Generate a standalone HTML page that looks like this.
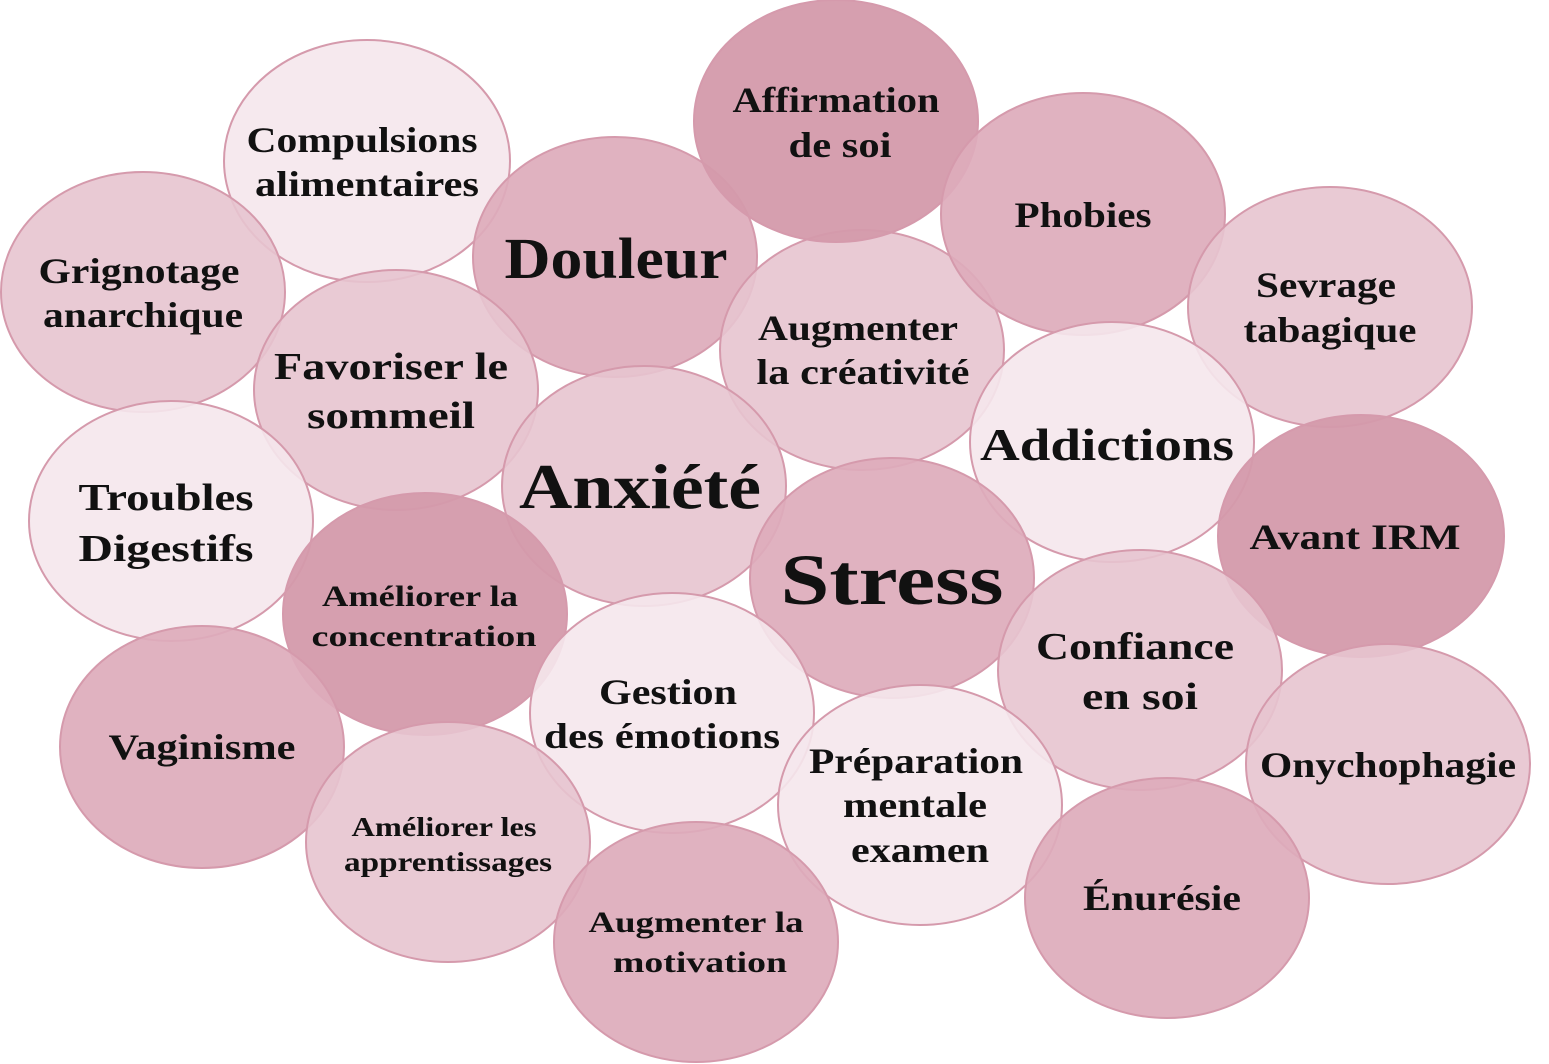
<!DOCTYPE html>
<html><head><meta charset="utf-8"><style>
html,body{margin:0;padding:0;background:#fff}
svg{display:block}
text{font-family:"Liberation Serif",serif;font-weight:bold;fill:#111;text-anchor:middle}
ellipse{stroke:#d59aac;stroke-width:2}
.a{fill:#f5e7ec;fill-opacity:.9}
.b{fill:#e7c4cf;fill-opacity:.9}
.c{fill:#ddabbb;fill-opacity:.92}
.d{fill:#d49aab;fill-opacity:.95}
</style></head><body>
<svg width="1549" height="1064" viewBox="0 0 1549 1064">
<ellipse class="a" cx="367" cy="161" rx="143" ry="121"/>
<ellipse class="b" cx="143" cy="292" rx="142" ry="120"/>
<ellipse class="c" cx="615" cy="257" rx="142" ry="120"/>
<ellipse class="b" cx="862" cy="350" rx="142" ry="120"/>
<ellipse class="d" cx="836" cy="121" rx="142" ry="121"/>
<ellipse class="c" cx="1083" cy="214" rx="142" ry="121"/>
<ellipse class="b" cx="1330" cy="307" rx="142" ry="120"/>
<ellipse class="b" cx="396" cy="390" rx="142" ry="120"/>
<ellipse class="a" cx="1112" cy="442" rx="142" ry="120"/>
<ellipse class="a" cx="171" cy="521" rx="142" ry="120"/>
<ellipse class="b" cx="644" cy="486" rx="142" ry="120"/>
<ellipse class="d" cx="1361" cy="536" rx="143" ry="121"/>
<ellipse class="c" cx="892" cy="578" rx="142" ry="120"/>
<ellipse class="d" cx="425" cy="614" rx="142" ry="121"/>
<ellipse class="b" cx="1140" cy="670" rx="142" ry="120"/>
<ellipse class="c" cx="202" cy="747" rx="142" ry="121"/>
<ellipse class="a" cx="672" cy="713" rx="142" ry="120"/>
<ellipse class="b" cx="1388" cy="764" rx="142" ry="120"/>
<ellipse class="a" cx="920" cy="805" rx="142" ry="120"/>
<ellipse class="b" cx="448" cy="842" rx="142" ry="120"/>
<ellipse class="c" cx="1167" cy="898" rx="142" ry="120"/>
<ellipse class="c" cx="696" cy="942" rx="142" ry="120"/>

<g lengthAdjust="spacingAndGlyphs">
<text font-size="36" x="362" y="152" textLength="231" lengthAdjust="spacingAndGlyphs">Compulsions</text>
<text font-size="36" x="367" y="196" textLength="224" lengthAdjust="spacingAndGlyphs">alimentaires</text>
<text font-size="36" x="836" y="112" textLength="207" lengthAdjust="spacingAndGlyphs">Affirmation</text>
<text font-size="36" x="840" y="157" textLength="103" lengthAdjust="spacingAndGlyphs">de soi</text>
<text font-size="36" x="139" y="283" textLength="201" lengthAdjust="spacingAndGlyphs">Grignotage</text>
<text font-size="36" x="143" y="327" textLength="200" lengthAdjust="spacingAndGlyphs">anarchique</text>
<text font-size="58" x="616" y="278" textLength="223" lengthAdjust="spacingAndGlyphs">Douleur</text>
<text font-size="36" x="1083" y="227" textLength="137" lengthAdjust="spacingAndGlyphs">Phobies</text>
<text font-size="36" x="1326" y="297" textLength="140" lengthAdjust="spacingAndGlyphs">Sevrage</text>
<text font-size="36" x="1330" y="342" textLength="173" lengthAdjust="spacingAndGlyphs">tabagique</text>
<text font-size="38" x="391" y="379" textLength="234" lengthAdjust="spacingAndGlyphs">Favoriser le</text>
<text font-size="38" x="391" y="428" textLength="168" lengthAdjust="spacingAndGlyphs">sommeil</text>
<text font-size="36" x="858" y="340" textLength="200" lengthAdjust="spacingAndGlyphs">Augmenter</text>
<text font-size="36" x="863" y="384" textLength="213" lengthAdjust="spacingAndGlyphs">la créativité</text>
<text font-size="46" x="1107" y="460" textLength="254" lengthAdjust="spacingAndGlyphs">Addictions</text>
<text font-size="38" x="166" y="510" textLength="175" lengthAdjust="spacingAndGlyphs">Troubles</text>
<text font-size="38" x="166" y="561" textLength="175" lengthAdjust="spacingAndGlyphs">Digestifs</text>
<text font-size="64" x="640" y="508" textLength="242" lengthAdjust="spacingAndGlyphs">Anxiété</text>
<text font-size="36" x="1355" y="549" textLength="211" lengthAdjust="spacingAndGlyphs">Avant IRM</text>
<text font-size="72" x="892" y="604" textLength="223" lengthAdjust="spacingAndGlyphs">Stress</text>
<text font-size="30" x="420" y="606" textLength="196" lengthAdjust="spacingAndGlyphs">Améliorer la</text>
<text font-size="30" x="424" y="646" textLength="225" lengthAdjust="spacingAndGlyphs">concentration</text>
<text font-size="38" x="1135" y="659" textLength="198" lengthAdjust="spacingAndGlyphs">Confiance</text>
<text font-size="38" x="1140" y="709" textLength="116" lengthAdjust="spacingAndGlyphs">en soi</text>
<text font-size="36" x="202" y="759" textLength="187" lengthAdjust="spacingAndGlyphs">Vaginisme</text>
<text font-size="36" x="668" y="704" textLength="138" lengthAdjust="spacingAndGlyphs">Gestion</text>
<text font-size="36" x="662" y="748" textLength="236" lengthAdjust="spacingAndGlyphs">des émotions</text>
<text font-size="36" x="1388" y="777" textLength="256" lengthAdjust="spacingAndGlyphs">Onychophagie</text>
<text font-size="36" x="916" y="773" textLength="214" lengthAdjust="spacingAndGlyphs">Préparation</text>
<text font-size="36" x="915" y="817" textLength="144" lengthAdjust="spacingAndGlyphs">mentale</text>
<text font-size="36" x="920" y="862" textLength="138" lengthAdjust="spacingAndGlyphs">examen</text>
<text font-size="27" x="444" y="836" textLength="185" lengthAdjust="spacingAndGlyphs">Améliorer les</text>
<text font-size="27" x="448" y="871" textLength="208" lengthAdjust="spacingAndGlyphs">apprentissages</text>
<text font-size="36" x="1162" y="910" textLength="158" lengthAdjust="spacingAndGlyphs">Énurésie</text>
<text font-size="30" x="696" y="932" textLength="215" lengthAdjust="spacingAndGlyphs">Augmenter la</text>
<text font-size="30" x="700" y="972" textLength="174" lengthAdjust="spacingAndGlyphs">motivation</text>
</g>
</svg>
</body></html>
